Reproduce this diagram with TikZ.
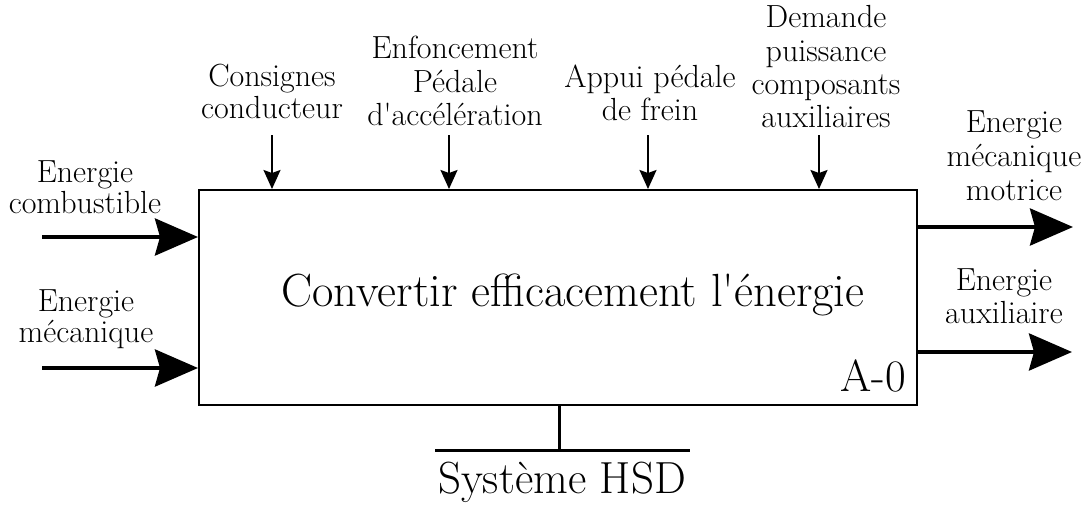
\documentclass[tikz,border=0pt]{standalone}
\usepackage{fontspec}
\usetikzlibrary{arrows.meta}
\newcommand\lbl[1]{\begin{tabular}[t]{@{}c@{}}#1\end{tabular}}
\begin{document}
\begin{tikzpicture}[x=1pt,y=-1pt,
  lab/.style={anchor=base, inner sep=0pt, font=\fontsize{32}{33}\selectfont},
  big/.style={anchor=base, inner sep=0pt, font=\fontsize{46.5}{52}\selectfont},
  bigarrow/.style={line width=4pt, -{Stealth[length=43pt,width=37pt,inset=5pt]}},
  smallarrow/.style={line width=2pt, -{Stealth[length=19pt,width=17pt,inset=3pt]}},
  mech/.style={line width=3pt},
]
\useasboundingbox[fill=white] (0,0) rectangle (1087,511);

% main box
\node[draw, line width=2pt, minimum width=718pt, minimum height=215pt, inner sep=0pt] (box) at (558,297.5) {};
\node[big] (title) at (573,306) {Convertir efficacement l\textquotesingle énergie};
\node[anchor=base, inner sep=0pt, font=\fontsize{45}{50}\selectfont] (a0) at (873,391) {A-0};

% inputs (left)
\node[lab, font=\fontsize{32}{31}\selectfont] (lin1) at (85,182) {\lbl{Energie\\combustible}};
\node[lab, font=\fontsize{32}{31}\selectfont] (lin2) at (86,311) {\lbl{Energie\\mécanique}};
\coordinate (in1) at (42,237);
\coordinate (in2) at (42,368);
\draw[bigarrow] (in1) -- (in1 -| box.west);
\draw[bigarrow] (in2) -- (in2 -| box.west);

% outputs (right)
\node[lab, font=\fontsize{32}{34}\selectfont] (lout1) at (1014,132) {\lbl{Energie\\mécanique\\motrice}};
\node[lab, font=\fontsize{32}{33}\selectfont] (lout2) at (1004,290) {\lbl{Energie\\auxiliaire}};
\coordinate (out1) at (1073,227);
\coordinate (out2) at (1072,352);
\draw[bigarrow] (out1 -| box.east) -- (out1);
\draw[bigarrow] (out2 -| box.east) -- (out2);

% controls (top)
\node[lab, font=\fontsize{32}{32}\selectfont] (c1) at (272,87) {\lbl{Consignes\\conducteur}};
\node[lab, font=\fontsize{32}{33.5}\selectfont] (c2) at (455,59) {\lbl{Enfoncement\\Pédale\\d\textquotesingle accélération}};
\node[lab, font=\fontsize{32}{32}\selectfont] (c3) at (650,88) {\lbl{Appui pédale\\de frein}};
\node[lab, font=\fontsize{32}{33.3}\selectfont] (c4) at (826,28) {\lbl{Demande\\puissance\\composants\\auxiliaires}};
\coordinate (k1) at (272,135);
\coordinate (k2) at (449,135);
\coordinate (k3) at (648,135);
\coordinate (k4) at (819,135);
\draw[smallarrow] (k1) -- (k1 |- box.north);
\draw[smallarrow] (k2) -- (k2 |- box.north);
\draw[smallarrow] (k3) -- (k3 |- box.north);
\draw[smallarrow] (k4) -- (k4 |- box.north);

% mechanism (bottom)
\coordinate (m) at (559,450);
\coordinate (mL) at (435,450);
\coordinate (mR) at (690,450);
\draw[mech] (m |- box.south) -- (m);
\draw[mech] (mL) -- (mR);
\node[anchor=base, inner sep=0pt, font=\fontsize{45}{50}\selectfont] (hsd) at (562,493) {Système HSD};
\end{tikzpicture}
\end{document}
